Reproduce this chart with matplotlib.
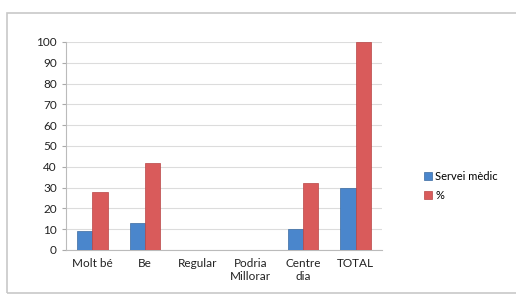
import matplotlib.pyplot as plt
import numpy as np
from matplotlib.patches import Rectangle

plt.rcParams["font.family"] = ["Lato", "DejaVu Sans"]

categories = ["Molt bé", "Be", "Regular", "Podria\nMillorar", "Centre\ndia", "TOTAL"]
servei_medic = [9, 13, 0, 0, 10, 30]
percent = [28, 42, 0, 0, 32, 100]
yticks = list(range(0, 101, 10))

blue = "#4A86CC"
red = "#D95B5B"

fig = plt.figure(figsize=(5.16, 2.96), dpi=100)
fig.patches.append(Rectangle((7 / 516, 3 / 296), 1.2, 280 / 296,
                             transform=fig.transFigure, fill=False,
                             edgecolor="#c8c8c8", linewidth=1.2))

ax = fig.add_axes([66 / 516, 1 - 250 / 296, 316 / 516, 208 / 296])
x = np.arange(len(categories))
w = 0.29
ax.bar(x - w / 2, servei_medic, width=w, color=blue, edgecolor="#3a6aa0",
       linewidth=0.5, label="Servei mèdic", zorder=3)
ax.bar(x + w / 2, percent, width=w, color=red, edgecolor="#b84545",
       linewidth=0.5, label="%", zorder=3)

ax.set_xlim(-0.5, 5.5)
ax.set_ylim(0, 100)
ax.set_yticks(yticks)
ax.set_xticks(x)
ax.set_xticklabels(categories, fontsize=8.5, color="#222222")
ax.tick_params(axis="y", labelsize=8.5, labelcolor="#222222", length=3,
               color="#aaaaaa")
ax.tick_params(axis="x", length=0, pad=6)
ax.yaxis.grid(True, color="#dcdcdc", linewidth=0.8, zorder=0)
ax.set_axisbelow(True)
for s in ("top", "right"):
    ax.spines[s].set_visible(False)
ax.spines["left"].set_color("#bbbbbb")
ax.spines["bottom"].set_color("#bbbbbb")

fig.legend(loc="upper left", bbox_to_anchor=(414 / 516, 1 - 161 / 296),
           frameon=False, fontsize=8, handlelength=0.7, handleheight=0.7,
           handletextpad=0.3, labelspacing=0.7)

fig.savefig("out.png", dpi=100)
